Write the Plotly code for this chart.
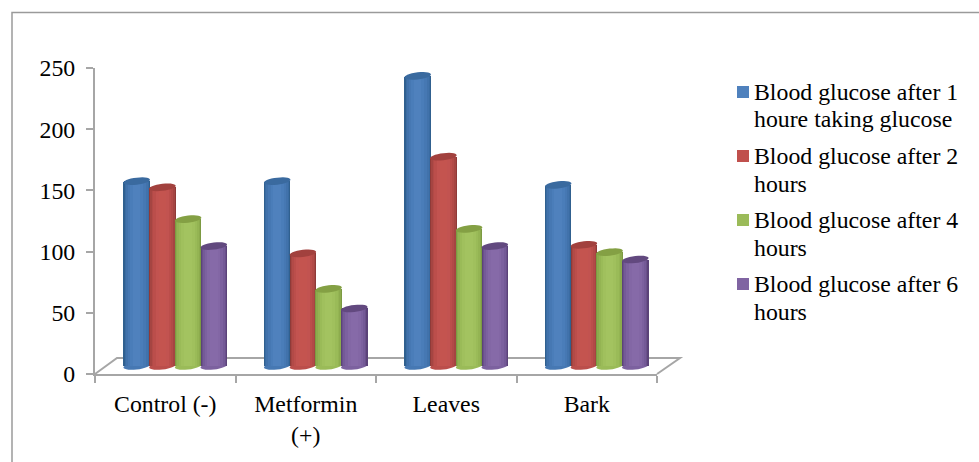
import math
import plotly.graph_objects as go

categories = ["Control (-)", "Metformin<br>(+)", "Leaves", "Bark"]
series_names = [
    "Blood glucose after 1 houre taking glucose",
    "Blood glucose after 2 hours",
    "Blood glucose after 4 hours",
    "Blood glucose after 6 hours",
]
legend_lines = [
    ["Blood glucose after 1", "houre taking glucose"],
    ["Blood glucose after 2", "hours"],
    ["Blood glucose after 4", "hours"],
    ["Blood glucose after 6", "hours"],
]
after_1h = [151, 151, 237, 148]
after_2h = [146, 92, 171, 99]
after_4h = [120, 63, 112, 93]
after_6h = [98, 47, 98, 87]
all_values = [after_1h, after_2h, after_4h, after_6h]
y_ticks = [0, 50, 100, 150, 200, 250]

W, H = 979, 462
L, R, T, B = 95, 657, 68, 374
def px(x): return (x - L) / (R - L)
def py(y): return (B - y) / (B - T)

# colour layers of each cylinder: edge -> centre
shades = [
    ["#30608f", "#3a6ca3", "#4172ab", "#4678b3", "#4a7db9", "#4f81bd"],
    ["#8f3a38", "#a54542", "#b24a47", "#bb4e4b", "#c25350", "#c4544f"],
    ["#7c9a42", "#8cab4d", "#94b453", "#9abb58", "#a0c05d", "#a3c360"],
    ["#5b4379", "#6a508b", "#745a97", "#7c619f", "#8367a5", "#866aa8"],
]
legend_colors = ["#4f81bd", "#c0504d", "#9bbb59", "#8064a2"]
tops = ["#3a6a9f", "#a2413e", "#84a044", "#62497f"]
layer_w = [1.0, 0.92, 0.82, 0.68, 0.5, 0.28]
pitch = 25.7 / 140.5
bar_w = 26.5 / 140.5
cap = 2.9
tilt = 1.2

def ellipse(x, v):
    pts = []
    for j in range(28):
        t = 2 * math.pi * j / 28
        pts.append((x + bar_w / 2 * math.cos(t), v + cap * math.sin(t) + tilt * math.cos(t)))
    return "M " + " L ".join(f"{a} {b}" for a, b in pts) + " Z"

fig = go.Figure()
fig.add_trace(go.Scatter(x=[0], y=[0], mode="markers", marker=dict(opacity=0),
                         showlegend=False, hoverinfo="skip"))
shapes = [
    dict(type="path", xref="paper", yref="paper", layer="below",
         path=f"M {px(95)} {py(374)} L {px(117)} {py(358)} L {px(680)} {py(358)} L {px(657)} {py(374)}",
         line=dict(color="#a6a6a6", width=2)),
    dict(type="path", xref="paper", yref="paper", layer="below",
         path=f"M {px(979)} {py(12.5)} L {px(12)} {py(12.5)} L {px(12)} {py(462)}",
         line=dict(color="#9a9a9a", width=1.5)),
]
for s, vals in enumerate(all_values):
    xs = [i + (s - 1.5) * pitch for i in range(len(categories))]
    for k, (c, f) in enumerate(zip(shades[s], layer_w)):
        fig.add_trace(go.Bar(
            x=xs, y=vals, width=bar_w * f, xaxis="x2", yaxis="y2",
            marker=dict(color=c, line=dict(width=0), cornerradius=2),
            name=series_names[s], showlegend=False,
        ))
    for x, v in zip(xs, vals):
        shapes.append(dict(type="path", xref="x2", yref="y2", layer="above",
                           path=ellipse(x, v), fillcolor=tops[s], line=dict(width=0)))
        shapes.append(dict(type="path", xref="x2", yref="y2", layer="below",
                           path=ellipse(x, 0), fillcolor=shades[s][3], line=dict(width=0)))

font = dict(family="Liberation Serif", size=23.8, color="#000000")

# hand-laid legend: square aligned to the first text line, as in the reference
annotations = []
for s, lines in enumerate(legend_lines):
    top = 92 + 64 * s
    shapes.append(dict(type="rect", xref="paper", yref="paper", layer="above",
                       x0=px(737), x1=px(749), y0=py(top - 6), y1=py(top + 6),
                       fillcolor=legend_colors[s], line=dict(width=0)))
    for n, text in enumerate(lines):
        annotations.append(dict(xref="paper", yref="paper", x=px(753), y=py(top + n * 27.5),
                                xanchor="left", yanchor="middle", text=text, showarrow=False,
                                font=font, borderpad=0))

shift_x = 10 / 140.5
shift_y = 8 / 1.224
fig.update_layout(
    width=W, height=H, autosize=False,
    margin=dict(l=L, r=W - R, t=T, b=H - B, pad=0),
    paper_bgcolor="white", plot_bgcolor="rgba(0,0,0,0)",
    barmode="overlay", bargap=0, font=font, shapes=shapes, annotations=annotations,
    xaxis=dict(range=[-0.5, 3.5], tickvals=list(range(4)), ticktext=categories,
               ticks="", showgrid=False, zeroline=False, showline=True,
               linecolor="#a6a6a6", linewidth=2, ticklabelstandoff=7, tickfont=font,
               minor=dict(tickvals=[-0.5, 0.5, 1.5, 2.5, 3.5], ticks="outside", ticklen=7,
                          tickwidth=2, tickcolor="#a6a6a6", showgrid=False)),
    yaxis=dict(range=[0, 250], tickvals=y_ticks, ticks="outside", ticklen=7, tickwidth=2,
               tickcolor="#a6a6a6", showgrid=False, zeroline=False, showline=True,
               linecolor="#a6a6a6", linewidth=2, ticklabelstandoff=6, tickfont=font),
    xaxis2=dict(range=[-0.5 - shift_x, 3.5 - shift_x], overlaying="x", visible=False),
    yaxis2=dict(range=[-shift_y, 250 - shift_y], overlaying="y", visible=False),
    showlegend=False,
)
fig.write_html("out.html", config=dict(displayModeBar=False),
               post_script="document.body.style.margin='0';")
